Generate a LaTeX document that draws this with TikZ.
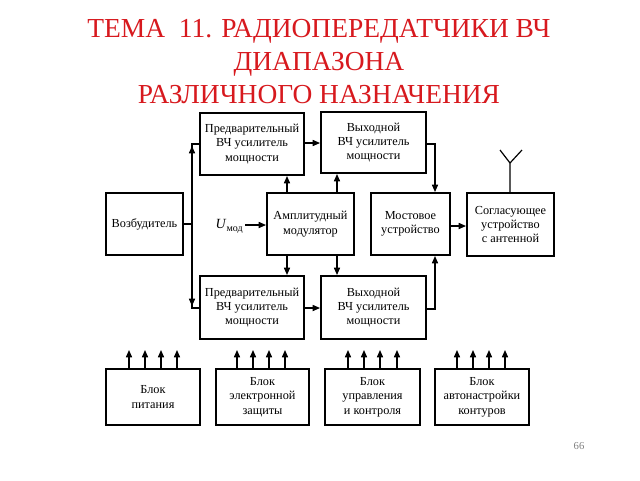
\documentclass[tikz,border=0pt]{standalone}
\usepackage{fontspec}
\setmainfont{Liberation Serif}
\usetikzlibrary{arrows.meta,calc}
\definecolor{titlered}{RGB}{215,25,30}
\begin{document}
\begin{tikzpicture}[x=0.75pt,y=-0.75pt,
  blk/.style={draw,line width=1.5pt,inner sep=0pt,align=center,font=\fontsize{9.2}{10.8}\selectfont},
  ln/.style={line width=0.9pt},
  arr/.style={line width=0.9pt,-{Triangle[length=5.5pt,width=4.6pt]}},
  ttl/.style={text=titlered,font=\fontsize{20.6}{24}\selectfont,anchor=base,inner sep=0pt}]
\useasboundingbox (0,0) rectangle (640,480);
% title
\node[ttl] (t1) at (319,37) {ТЕМА\ \ 11. РАДИОПЕРЕДАТЧИКИ ВЧ};
\node[ttl] (t2) at (319,70) {ДИАПАЗОНА};
\node[ttl] (t3) at (319,103) {РАЗЛИЧНОГО НАЗНАЧЕНИЯ};
% blocks
\node[blk,minimum width=104*0.75pt,minimum height=62*0.75pt] (pre1) at (252,144) {Предварительный\\ВЧ усилитель\\мощности};
\node[blk,minimum width=77*0.75pt,minimum height=62*0.75pt] (exc) at (144.5,224) {Возбудитель};
\node[blk,minimum width=104*0.75pt,minimum height=63*0.75pt] (pre2) at (252,307.5) {Предварительный\\ВЧ усилитель\\мощности};
\node[blk,minimum width=87*0.75pt,minimum height=62*0.75pt] (mod) at (310.5,224) {Амплитудный\\модулятор};
\node[blk,minimum width=105*0.75pt,minimum height=61*0.75pt] (out1) at (373.5,142.5) {Выходной\\ВЧ усилитель\\мощности};
\node[blk,minimum width=79*0.75pt,minimum height=62*0.75pt] (most) at (410.5,224) {Мостовое\\устройство};
\node[blk,minimum width=87*0.75pt,minimum height=63*0.75pt] (match) at (510.5,224.5) {Согласующее\\устройство\\с антенной};
\node[blk,minimum width=105*0.75pt,minimum height=63*0.75pt] (out2) at (373.5,307.5) {Выходной\\ВЧ усилитель\\мощности};
\node[blk,minimum width=94*0.75pt,minimum height=56*0.75pt] (b1) at (153,397) {Блок\\питания};
\node[blk,minimum width=93*0.75pt,minimum height=56*0.75pt] (b2) at (262.5,397) {Блок\\электронной\\защиты};
\node[blk,minimum width=95*0.75pt,minimum height=56*0.75pt] (b3) at (372.5,397) {Блок\\управления\\и контроля};
\node[blk,minimum width=94*0.75pt,minimum height=56*0.75pt] (b4) at (482,397) {Блок\\автонастройки\\контуров};
% U mod
\node[inner sep=0pt,anchor=east,font=\fontsize{10.5}{12}\selectfont] (umod) at (243,226) {\textit{U}\raisebox{-0.45ex}{\fontsize{7.5}{9}\selectfont мод}};
\draw[arr] (umod.east) ++(2,-1) coordinate (u0) -- (u0 -| mod.west);
% branch from exciter
\coordinate (br) at (192,224);
\coordinate (bt) at (192,144);
\coordinate (bb) at (192,308);
\draw[ln] (exc.east |- br) -- (br);
\draw[ln] (br) -- (bt) -- (bt -| pre1.west);
\draw[ln] (br) -- (bb) -- (bb -| pre2.west);
\draw[arr] ($(bt)+(0,12)$) -- ($(bt)+(0,2)$);
\draw[arr] ($(bb)+(0,-12)$) -- ($(bb)+(0,-2)$);
% preamps to output amps
\draw[arr] (pre1.east |- 0,143) -- (out1.west |- 0,143);
\draw[arr] (pre2.east |- 0,308) -- (out2.west |- 0,308);
% modulator to amplifiers
\coordinate (m1) at (287,0);
\coordinate (m2) at (337,0);
\draw[arr] (mod.north -| m1) -- (pre1.south -| m1);
\draw[arr] (mod.south -| m1) -- (pre2.north -| m1);
\draw[arr] (mod.north -| m2) -- (out1.south -| m2);
\draw[arr] (mod.south -| m2) -- (out2.north -| m2);
% outputs to bridge
\coordinate (mx) at (435,0);
\draw[arr] (out1.east |- 0,144) -| (most.north -| mx);
\draw[arr] (out2.east |- 0,309) -| (most.south -| mx);
% bridge to matching
\draw[arr] (most.east |- 0,226) -- (match.west |- 0,226);
% antenna
\coordinate (ant) at (510,163);
\draw[ln] (match.north -| ant) -- (ant) -- ++(-10,-13);
\draw[ln] (ant) -- ++(12,-13);
% bottom block arrows
\foreach \b/\xa/\xb/\xc/\xd in {b1/129/145/161/177, b2/237/253/269/285, b3/348/364/380/397, b4/457/473/489/505}{
  \foreach \xx in {\xa,\xb,\xc,\xd}{
    \draw[arr] (\b.north -| \xx,0) -- (\xx,350);
  }
}
% page number
\node[text=gray,font=\fontsize{8}{9}\selectfont,inner sep=0pt] (pg) at (579,446) {66};
\end{tikzpicture}
\end{document}
